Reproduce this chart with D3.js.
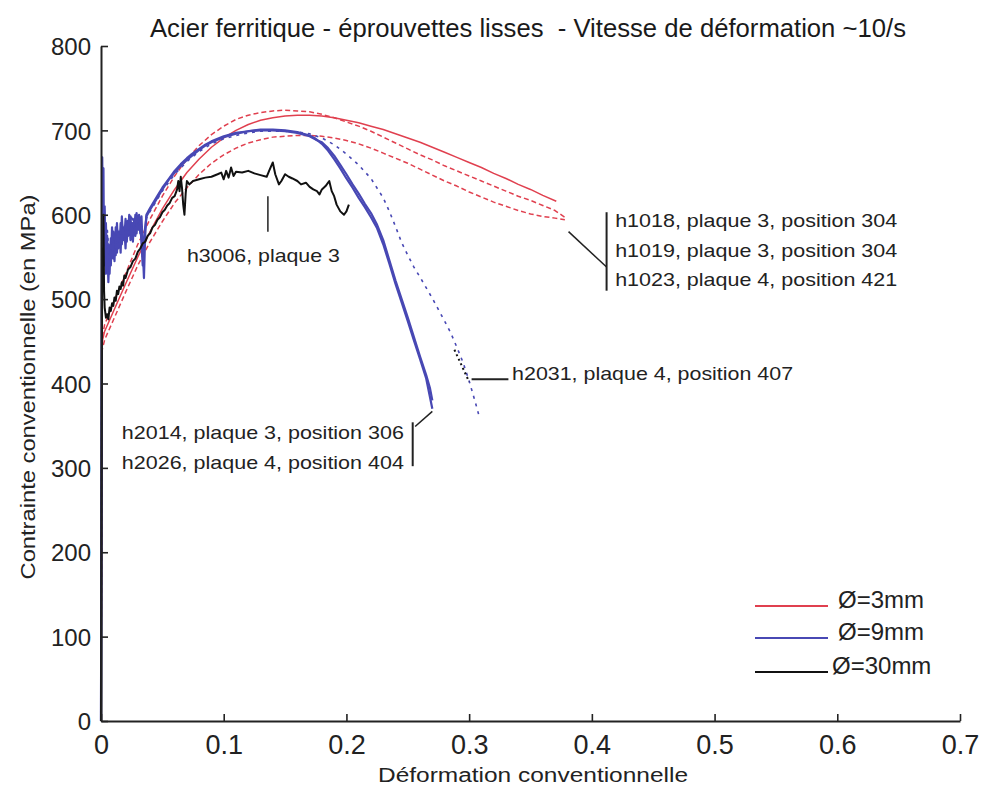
<!DOCTYPE html>
<html><head><meta charset="utf-8">
<script src="https://cdn.jsdelivr.net/npm/d3@7"></script>
<style>body{margin:0;background:#fff} svg{display:block}</style>
</head><body>
<svg id="c" width="982" height="794"></svg>
<script>
// ---------- data ----------
const title = "Acier ferritique - éprouvettes lisses  - Vitesse de déformation ~10/s";
const xLabel = "Déformation conventionnelle";
const yLabel = "Contrainte conventionnelle (en MPa)";
const xTicks = [0, 0.1, 0.2, 0.3, 0.4, 0.5, 0.6, 0.7];
const xTickLabels = ["0", "0.1", "0.2", "0.3", "0.4", "0.5", "0.6", "0.7"];
const yTicks = [0, 100, 200, 300, 400, 500, 600, 700, 800];
const yTickLabels = ["0", "100", "200", "300", "400", "500", "600", "700", "800"];
const groups = ["Ø=3mm", "Ø=9mm", "Ø=30mm"];

// Ø=3mm specimens (strain, stress MPa)
const h1018 = [[0,0],[0.0005,250],[0.001,450],[0.003,462],[0.01,485],[0.02,518],[0.03,550],[0.04,580],[0.05,607],[0.06,630],[0.07,650],[0.08,666],[0.09,680],[0.1,691],[0.11,700],[0.12,707],[0.13,712],[0.14,715],[0.15,717],[0.16,718],[0.17,718],[0.18,717],[0.19,715],[0.2,712],[0.21,709],[0.22,705],[0.23,701],[0.24,696],[0.25,691],[0.26,686],[0.27,680],[0.28,674],[0.29,668],[0.3,662],[0.31,656],[0.32,649],[0.33,643],[0.34,636],[0.35,630],[0.36,623],[0.371,616]];
const h1019 = [[0,0],[0.0005,260],[0.001,455],[0.003,470],[0.01,495],[0.02,530],[0.03,565],[0.04,595],[0.05,622],[0.06,646],[0.07,666],[0.08,682],[0.09,695],[0.1,705],[0.11,713],[0.12,718],[0.13,721],[0.14,723],[0.15,724],[0.16,723],[0.17,722],[0.18,719],[0.19,715],[0.2,710],[0.21,705],[0.22,699],[0.23,692],[0.24,685],[0.25,678],[0.26,671],[0.27,665],[0.28,658],[0.29,652],[0.3,646],[0.31,640],[0.32,634],[0.33,628],[0.34,622],[0.35,617],[0.36,611],[0.37,605],[0.378,597]];
const h1023 = [[0,0],[0.0005,240],[0.001,440],[0.003,452],[0.01,475],[0.02,508],[0.03,540],[0.04,568],[0.05,592],[0.06,614],[0.07,632],[0.08,648],[0.09,661],[0.1,671],[0.11,679],[0.12,685],[0.13,689],[0.14,692],[0.15,693],[0.16,694],[0.17,694],[0.18,693],[0.19,691],[0.2,688],[0.21,684],[0.22,679],[0.23,673],[0.24,667],[0.25,661],[0.26,654],[0.27,647],[0.28,640],[0.29,634],[0.3,627],[0.31,621],[0.32,615],[0.33,610],[0.34,605],[0.35,601],[0.36,598],[0.37,596],[0.378,594]];

// Ø=9mm specimens
const h2014 = [[0,0],[0.0005,350],[0.001,668],[0.0015,600],[0.002,655],[0.0025,540],[0.003,610],[0.004,530],[0.005,575],[0.006,520],[0.007,560],[0.008,540],[0.009,585],[0.010,548],[0.011,575],[0.012,552],[0.013,590],[0.014,560],[0.015,580],[0.016,555],[0.017,598],[0.018,570],[0.019,585],[0.020,560],[0.021,592],[0.022,575],[0.023,600],[0.024,570],[0.025,590],[0.026,568],[0.027,595],[0.028,575],[0.029,602],[0.030,585],[0.031,600],[0.032,578],[0.033,598],[0.034,560],[0.035,525],[0.036,575],[0.037,600],[0.04,608],[0.045,620],[0.05,632],[0.055,642],[0.06,652],[0.065,660],[0.07,667],[0.075,673],[0.08,678],[0.085,683],[0.09,687],[0.095,690],[0.1,693],[0.11,697],[0.12,699],[0.13,701],[0.14,701],[0.15,700],[0.16,698],[0.17,694],[0.175,690],[0.18,684],[0.185,676],[0.19,666],[0.195,655],[0.2,643],[0.205,632],[0.21,620],[0.215,609],[0.22,597],[0.225,584],[0.23,565],[0.235,542],[0.24,518],[0.245,496],[0.25,474],[0.255,451],[0.26,429],[0.265,406],[0.27,370]];
const h2026 = [[0,0],[0.0005,330],[0.001,650],[0.0015,620],[0.002,580],[0.003,560],[0.004,590],[0.005,540],[0.006,565],[0.007,530],[0.008,572],[0.009,550],[0.010,580],[0.011,545],[0.012,585],[0.013,555],[0.014,578],[0.015,562],[0.016,590],[0.017,565],[0.018,582],[0.019,572],[0.020,595],[0.021,568],[0.022,588],[0.023,578],[0.024,598],[0.025,575],[0.026,590],[0.027,580],[0.028,600],[0.029,578],[0.030,596],[0.031,582],[0.032,592],[0.033,565],[0.034,540],[0.035,572],[0.037,598],[0.04,606],[0.045,618],[0.05,630],[0.055,641],[0.06,650],[0.065,658],[0.07,665],[0.075,671],[0.08,677],[0.085,682],[0.09,686],[0.095,689],[0.1,692],[0.11,696],[0.12,699],[0.13,700],[0.14,700],[0.15,699],[0.16,697],[0.17,693],[0.175,689],[0.18,686],[0.185,679],[0.19,670],[0.195,659],[0.2,648],[0.205,636],[0.21,625],[0.215,613],[0.22,602],[0.225,588],[0.23,570],[0.235,546],[0.24,522],[0.245,500],[0.25,478],[0.255,455],[0.26,432],[0.265,410],[0.268,395],[0.27,380]];
const h2031 = [[0,0],[0.0005,320],[0.001,640],[0.002,600],[0.003,550],[0.005,585],[0.007,545],[0.009,578],[0.011,555],[0.013,588],[0.015,565],[0.017,592],[0.019,570],[0.021,596],[0.023,580],[0.025,600],[0.027,582],[0.029,598],[0.031,585],[0.033,575],[0.035,560],[0.037,596],[0.04,604],[0.045,616],[0.05,628],[0.06,648],[0.07,663],[0.08,675],[0.09,684],[0.1,690],[0.11,694],[0.12,697],[0.13,699],[0.14,699],[0.15,699],[0.16,698],[0.17,696],[0.18,691],[0.19,683],[0.2,672],[0.21,659],[0.22,643],[0.23,620],[0.235,604],[0.24,586],[0.245,567],[0.25,552],[0.255,538],[0.26,526],[0.27,501],[0.28,474],[0.285,460],[0.29,443],[0.295,425],[0.3,403],[0.305,378],[0.308,362]];

// Ø=30mm specimen
const h3006 = [[0,0],[0.0005,300],[0.001,560],[0.0015,520],[0.002,600],[0.0025,510],[0.003,490],[0.004,478],[0.005,482],[0.006,476],[0.007,490],[0.008,486],[0.009,495],[0.010,492],[0.011,502],[0.012,498],[0.013,510],[0.014,506],[0.015,515],[0.016,512],[0.017,520],[0.018,516],[0.019,528],[0.02,525],[0.022,535],[0.024,538],[0.026,545],[0.028,548],[0.03,556],[0.032,560],[0.034,566],[0.036,568],[0.038,575],[0.04,578],[0.042,585],[0.044,588],[0.046,594],[0.048,597],[0.05,603],[0.052,606],[0.054,611],[0.056,614],[0.058,620],[0.06,622],[0.062,630],[0.063,640],[0.064,628],[0.065,645],[0.066,632],[0.067,612],[0.068,600],[0.069,625],[0.07,640],[0.072,636],[0.075,640],[0.08,642],[0.085,644],[0.09,645],[0.095,648],[0.098,650],[0.1,642],[0.102,652],[0.104,644],[0.106,656],[0.108,646],[0.11,651],[0.115,650],[0.12,652],[0.125,649],[0.13,647],[0.135,645],[0.137,652],[0.14,662],[0.142,648],[0.145,636],[0.147,640],[0.15,648],[0.153,645],[0.156,643],[0.16,640],[0.163,636],[0.167,638],[0.17,633],[0.173,630],[0.176,628],[0.178,624],[0.18,630],[0.183,634],[0.186,640],[0.188,628],[0.19,622],[0.192,612],[0.195,604],[0.198,600],[0.2,604],[0.202,612]];

const seriesNames = ["h1018","h1019","h1023","h2014","h2026","h2031","h3006"];
const seriesData  = [h1018, h1019, h1023, h2014, h2026, h2031, h3006];
const seriesGroup = [0, 0, 0, 1, 1, 1, 2];

// ---------- styles ----------
const groupColor = ["#e0404f", "#4848b4", "#111111"];
const seriesDash = [null, "5,3", "5,3", null, null, "3,5", null];
const seriesWidth = [1.5, 1.5, 1.5, 2.2, 2.2, 1.6, 2];

// ---------- drawing ----------
const svg = d3.select("#c");
const x = d3.scaleLinear().domain([0, 0.7]).range([101, 960]);
const y = d3.scaleLinear().domain([0, 800]).range([721, 46]);
const FONT = "'Liberation Sans', Arial, sans-serif";
const NARROW = "'Liberation Sans Narrow', 'Arial Narrow', 'Liberation Sans', Arial, sans-serif";

// title
svg.append("text").attr("x", 150).attr("y", 37).attr("font-family", FONT)
  .attr("font-size", 25).attr("fill", "#1a1a1a").style("white-space", "pre")
  .attr("textLength", 756).attr("lengthAdjust", "spacingAndGlyphs").text(title);

// lines
const line = d3.line().x(d => x(d[0])).y(d => y(d[1]));
const lines = svg.append("g");
seriesData.forEach((d, i) => {
  lines.append("path").attr("d", line(d)).attr("fill", "none")
    .attr("stroke", groupColor[seriesGroup[i]])
    .attr("stroke-width", seriesWidth[i])
    .attr("stroke-dasharray", seriesDash[i])
    .attr("stroke-linejoin", "round");
});

// axes
const gx = svg.append("g").attr("transform", `translate(0,${y(0)})`)
  .call(d3.axisBottom(x).tickValues(xTicks).tickFormat((d, i) => xTickLabels[i]).tickSize(-7).tickSizeOuter(0).tickPadding(14));
const gy = svg.append("g").attr("transform", `translate(${x(0)},0)`)
  .call(d3.axisLeft(y).tickValues(yTicks).tickFormat((d, i) => yTickLabels[i]).tickSize(-7).tickSizeOuter(0).tickPadding(10));
[gx, gy].forEach(g => {
  g.select(".domain").attr("stroke", "#222").attr("stroke-width", 2);
  g.selectAll(".tick line").attr("stroke", "#222").attr("stroke-width", 1.6);
  g.selectAll("text").attr("fill", "#222");
});
gx.selectAll("text").attr("font-family", NARROW).attr("font-size", 27).attr("dy", "0.71em");
gy.selectAll("text").attr("font-family", FONT).attr("font-size", 24).attr("dy", "0.36em");

// axis labels
svg.append("text").attr("x", 533).attr("y", 782).attr("text-anchor", "middle")
  .attr("font-family", FONT).attr("font-size", 20).attr("fill", "#222")
  .attr("textLength", 310).attr("lengthAdjust", "spacingAndGlyphs").text(xLabel);
svg.append("text").attr("transform", "translate(35,387) rotate(-90)").attr("text-anchor", "middle")
  .attr("font-family", FONT).attr("font-size", 20).attr("fill", "#222")
  .attr("textLength", 385).attr("lengthAdjust", "spacingAndGlyphs").text(yLabel);

// annotations
const ann = svg.append("g").attr("font-family", FONT).attr("font-size", 19).attr("fill", "#222");
const seg = (x1, y1, x2, y2, w, dash, col) => svg.append("line")
  .attr("x1", x(x1)).attr("y1", y(y1)).attr("x2", x(x2)).attr("y2", y(y2))
  .attr("stroke", col || "#222").attr("stroke-width", w || 1.5).attr("stroke-dasharray", dash || null);
// h3006
seg(0.136, 622, 0.136, 580);
ann.append("text").attr("x", x(0.070)).attr("y", y(544)).attr("textLength", 153).attr("lengthAdjust","spacingAndGlyphs").text("h3006, plaque 3");
// red group
seg(0.381, 580, 0.412, 538);
seg(0.412, 603, 0.412, 510, 2);
[["h1018, plaque 3, position 304", 586], ["h1019, plaque 3, position 304", 550], ["h1023, plaque 4, position 421", 515]]
  .forEach(t => ann.append("text").attr("x", x(0.419)).attr("y", y(t[1])).attr("textLength", 282).attr("lengthAdjust","spacingAndGlyphs").text(t[0]));
// h2031
seg(0.288, 440, 0.3, 402, 2, "2,3", "#111");
seg(0.302, 405, 0.332, 405, 2);
ann.append("text").attr("x", x(0.335)).attr("y", y(404)).attr("textLength", 281).attr("lengthAdjust","spacingAndGlyphs").text("h2031, plaque 4, position 407");
// h2014 / h2026
seg(0.256, 349, 0.27, 367);
seg(0.254, 354, 0.254, 302, 2);
[["h2014, plaque 3, position 306", 334], ["h2026, plaque 4, position 404", 299]]
  .forEach(t => ann.append("text").attr("x", x(0.017)).attr("y", y(t[1])).attr("textLength", 282).attr("lengthAdjust","spacingAndGlyphs").text(t[0]));

// legend
const leg = svg.append("g");
const legY = [606, 638, 672];
groups.forEach((g, i) => {
  leg.append("line").attr("x1", 755).attr("x2", 828).attr("y1", legY[i]).attr("y2", legY[i])
    .attr("stroke", groupColor[i]).attr("stroke-width", 1.8);
  leg.append("text").attr("x", i === 2 ? 832 : 838).attr("y", legY[i] + 2).attr("font-family", NARROW)
    .attr("font-size", 24).attr("fill", "#222").text(g);
});
</script>
</body></html>
